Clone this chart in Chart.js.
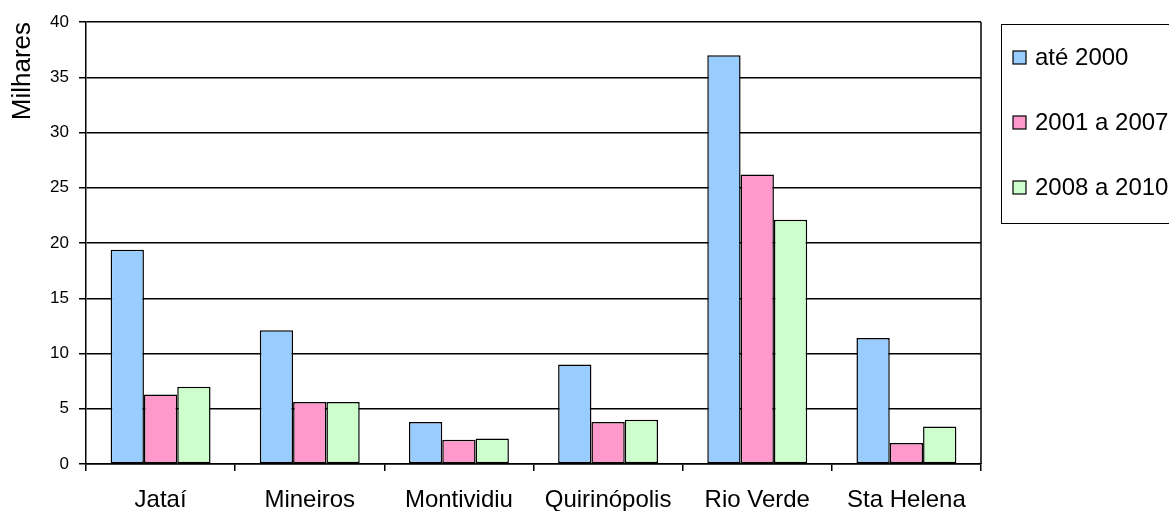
<!DOCTYPE html>
<html>
<head>
<meta charset="utf-8">
<script src="https://cdn.jsdelivr.net/npm/chart.js@4/dist/chart.umd.min.js"></script>
<style>
  html, body { margin: 0; padding: 0; background: #fff; }
  #wrap { width: 1169px; height: 511px; position: relative; }
</style>
</head>
<body>
<div id="wrap"><canvas id="c" width="1169" height="511"></canvas></div>
<script>
const municipios = ['Jataí', 'Mineiros', 'Montividiu', 'Quirinópolis', 'Rio Verde', 'Sta Helena'];
const ate2000 = [19.4, 12.1, 3.8, 9.0, 37.0, 11.4];
const de2001a2007 = [6.3, 5.6, 2.2, 3.8, 26.2, 1.9];
const de2008a2010 = [7.0, 5.6, 2.3, 4.0, 22.1, 3.4];
const seriesNames = ['até 2000', '2001 a 2007', '2008 a 2010'];
const yTicks = [0, 5, 10, 15, 20, 25, 30, 35, 40];

const FONT = "'Liberation Sans', Arial, sans-serif";
const fills = ['#99CCFF', '#FF99CC', '#CCFFCC'];

// Frame on the right edge of the plot and the boxed legend at the right
const framePlugin = {
  id: 'frameAndLegend',
  afterDraw(chart) {
    const ctx = chart.ctx;
    const a = chart.chartArea;
    ctx.save();
    ctx.strokeStyle = '#000';
    ctx.lineWidth = 1.5;
    ctx.beginPath();
    ctx.moveTo(a.right, a.top);
    ctx.lineTo(a.right, a.bottom);
    ctx.stroke();

    // legend box
    const lx = 1001.5, ly = 24.5, lw = 200, lh = 199;
    ctx.lineWidth = 1;
    ctx.strokeRect(lx, ly, lw, lh);
    ctx.font = '24px ' + FONT;
    ctx.textBaseline = 'middle';
    ctx.textAlign = 'left';
    chart.data.datasets.forEach((ds, i) => {
      const cy = 57.5 + i * 65;
      ctx.fillStyle = ds.backgroundColor;
      ctx.fillRect(1013, cy - 6.5, 13, 13);
      ctx.strokeStyle = '#000';
      ctx.lineWidth = 1.2;
      ctx.strokeRect(1013, cy - 6.5, 13, 13);
      ctx.fillStyle = '#000';
      ctx.fillText(ds.label, 1035, cy + 1);
    });
    ctx.restore();
  }
};

new Chart(document.getElementById('c'), {
  type: 'bar',
  data: {
    labels: municipios,
    datasets: [ate2000, de2001a2007, de2008a2010].map((vals, i) => ({
      label: seriesNames[i],
      data: vals,
      backgroundColor: fills[i],
      borderColor: '#000',
      borderWidth: 1.5,
      borderSkipped: false,
      categoryPercentage: 0.67,
      barPercentage: 1.0
    }))
  },
  options: {
    responsive: false,
    animation: false,
    devicePixelRatio: 1,
    layout: { padding: { top: 22, right: 188, left: 0, bottom: 0 } },
    plugins: {
      legend: { display: false },
      tooltip: { enabled: false }
    },
    scales: {
      x: {
        grid: {
          display: true,
          drawOnChartArea: false,
          drawTicks: true,
          tickLength: 7,
          color: '#000',
          lineWidth: 1.5,
          offset: true
        },
        border: { display: true, color: '#000', width: 1.5 },
        ticks: {
          color: '#000',
          font: { family: FONT, size: 24 },
          padding: 15,
          maxRotation: 0,
          autoSkip: false
        },
        afterFit(scale) { scale.height = 47; }
      },
      y: {
        min: 0,
        max: 40,
        afterBuildTicks(scale) { scale.ticks = yTicks.map(v => ({ value: v })); },
        grid: {
          color: '#000',
          lineWidth: 1.5,
          drawTicks: true,
          tickLength: 7
        },
        border: { display: true, color: '#000', width: 1.5 },
        ticks: {
          color: '#000',
          font: { family: FONT, size: 17 },
          padding: 10
        },
        title: {
          display: true,
          text: 'Milhares',
          align: 'end',
          color: '#000',
          font: { family: FONT, size: 26 },
          padding: { top: 7, bottom: 0 }
        },
        afterFit(scale) { scale.width = 86; }
      }
    }
  },
  plugins: [framePlugin]
});
</script>
</body>
</html>
